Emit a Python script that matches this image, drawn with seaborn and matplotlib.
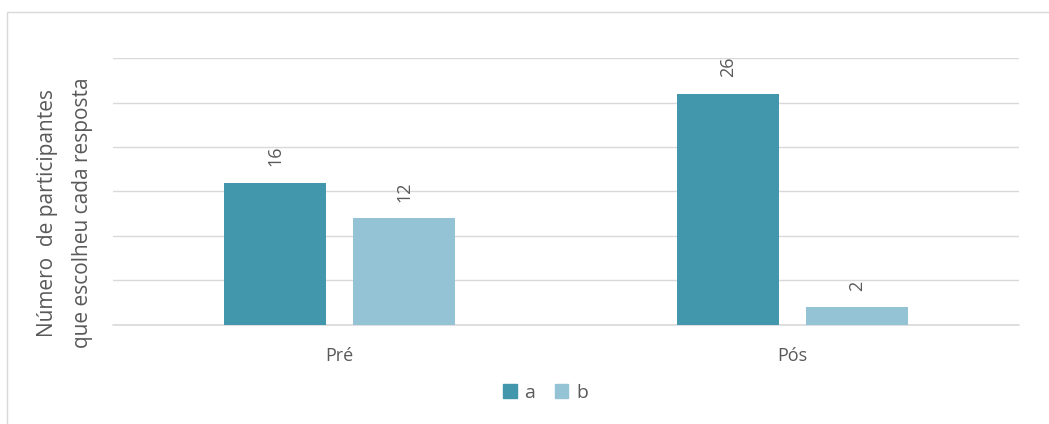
import pandas as pd
import matplotlib.pyplot as plt
import seaborn as sns
from matplotlib.patches import Rectangle

# dados
momentos = ['Pré', 'Pós']
respostas = ['a', 'b']
valores_a = [16, 26]
valores_b = [12, 2]

cores = {'a': '#4397AD', 'b': '#93C3D5'}
cinza = '#595959'

dados = pd.DataFrame({
    'momento': momentos * 2,
    'resposta': ['a'] * len(momentos) + ['b'] * len(momentos),
    'valor': valores_a + valores_b,
})

sns.set_style('white')
plt.rcParams['font.family'] = ['Open Sans', 'DejaVu Sans']

fig = plt.figure(figsize=(10.49, 4.24), dpi=100)
ax = fig.add_axes([0.1077, 0.2335, 0.8637, 0.6297])

sns.barplot(data=dados, x='momento', y='valor', hue='resposta', order=momentos,
            hue_order=respostas, palette=cores, saturation=1, width=0.57, gap=0.21,
            edgecolor='none', ax=ax, legend=False)

# rótulos de valor em cima das barras
for cont in ax.containers:
    ax.bar_label(cont, padding=12, rotation=90, color=cinza, fontsize=13)

ax.set_ylim(0, 30)
ax.set_yticks(range(0, 31, 5))
ax.set_yticklabels([])
ax.tick_params(axis='both', length=0)
ax.grid(axis='y', color='#D9D9D9', linewidth=1)
ax.axhline(0, color='#D9D9D9', linewidth=1.2, zorder=0.5, clip_on=False)
ax.set_axisbelow(True)
for s in ax.spines.values():
    s.set_visible(False)

ax.set_xlabel('')
ax.set_ylabel('')
ax.tick_params(axis='x', labelcolor=cinza, labelsize=13, pad=16)

# título do eixo y em duas linhas
fig.text(65 / 1049, 1 - 213 / 424, 'Número  de participantes\nque escolheu cada resposta',
         rotation=90, ha='center', va='center', multialignment='center',
         color=cinza, fontsize=15, linespacing=1.85)

# legenda embaixo
handles = [Rectangle((0, 0), 1, 1, color=cores[r]) for r in respostas]
fig.legend(handles, respostas, loc='center', bbox_to_anchor=(0.52, 0.073), ncol=2,
           frameon=False, handlelength=0.7, handleheight=0.7, handletextpad=0.4,
           columnspacing=1.0, labelcolor=cinza, fontsize=14)

# moldura do gráfico
fig.patches.append(Rectangle((7 / 1049, -0.1), 1.2, 1.1 - 12 / 424, transform=fig.transFigure,
                             fill=False, edgecolor='#D9D9D9', linewidth=1))

fig.savefig('out.png', dpi=100)
